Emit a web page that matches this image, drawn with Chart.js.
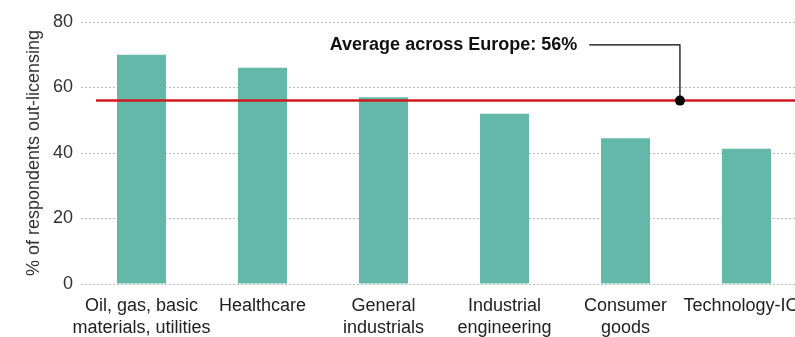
<!DOCTYPE html>
<html lang="en">
<head>
    <meta charset="UTF-8">
    <title>Out-licensing by sector</title>
    <script src="https://cdn.jsdelivr.net/npm/chart.js@4.4.3/dist/chart.umd.min.js"></script>
    <style>
        html, body {
            margin: 0;
            padding: 0;
            background: #fff;
            overflow: hidden;
        }
        .wrap {
            width: 795px;
            height: 337px;
            overflow: hidden;
        }
        canvas {
            display: block;
        }
    </style>
</head>
<body>
    <div class="wrap">
        <canvas id="chart" width="821" height="337"></canvas>
    </div>

    <script>
        // chart data
        const sectors = [
            ['Oil, gas, basic', 'materials, utilities'],
            'Healthcare',
            ['General', 'industrials'],
            ['Industrial', 'engineering'],
            ['Consumer', 'goods'],
            'Technology-ICT'
        ];
        const outLicensing = [70, 66, 57, 52, 44.5, 41.3];
        const europeAverage = 56;
        const averageLabel = 'Average across Europe: 56%';
        const yTicks = [0, 20, 40, 60, 80];

        const FONT = "'Liberation Sans', Arial, sans-serif";
        const BAR = '#64b8aa';
        const RED = '#d0191f';

        // red average line + callout
        const averagePlugin = {
            id: 'averageLine',
            afterDatasetsDraw(chart) {
                const { ctx, chartArea, scales } = chart;
                const y = scales.y.getPixelForValue(europeAverage);
                const dotX = scales.x.getPixelForValue(4.45);
                const elbowY = scales.y.getPixelForValue(73);
                const elbowX = scales.x.getPixelForValue(3.7);

                ctx.save();
                ctx.strokeStyle = RED;
                ctx.lineWidth = 2.5;
                ctx.beginPath();
                ctx.moveTo(chartArea.left + 15, y);
                ctx.lineTo(chartArea.right, y);
                ctx.stroke();

                ctx.strokeStyle = '#000';
                ctx.lineWidth = 1.2;
                ctx.beginPath();
                ctx.moveTo(elbowX, elbowY);
                ctx.lineTo(dotX, elbowY);
                ctx.lineTo(dotX, y);
                ctx.stroke();

                ctx.fillStyle = '#000';
                ctx.beginPath();
                ctx.arc(dotX, y, 5, 0, Math.PI * 2);
                ctx.fill();

                ctx.font = 'bold 18px ' + FONT;
                ctx.textAlign = 'right';
                ctx.textBaseline = 'middle';
                ctx.fillStyle = '#111';
                ctx.fillText(averageLabel, elbowX - 12, elbowY);
                ctx.restore();
            }
        };

        const ctx = document.getElementById('chart').getContext('2d');
        new Chart(ctx, {
            type: 'bar',
            data: {
                labels: sectors,
                datasets: [{
                    data: outLicensing,
                    backgroundColor: BAR,
                    borderWidth: 0,
                    barPercentage: 0.405,
                    categoryPercentage: 1
                }]
            },
            options: {
                responsive: false,
                animation: false,
                layout: { padding: { left: 23, top: 22, right: 14, bottom: 0 } },
                plugins: {
                    legend: { display: false },
                    tooltip: { enabled: false }
                },
                scales: {
                    x: {
                        grid: { display: false },
                        border: { display: false },
                        ticks: {
                            color: '#222',
                            font: { family: FONT, size: 18, lineHeight: 1.22 },
                            maxRotation: 0,
                            autoSkip: false,
                            padding: 3
                        },
                        afterFit(scale) { scale.height = 53; }
                    },
                    y: {
                        min: 0,
                        max: 80,
                        afterBuildTicks(scale) {
                            scale.ticks = yTicks.map(v => ({ value: v }));
                        },
                        grid: {
                            color: '#bbbbbb',
                            lineWidth: 1,
                            drawTicks: false
                        },
                        border: { display: false, dash: [2, 2] },
                        ticks: {
                            color: '#333',
                            font: { family: FONT, size: 18 },
                            padding: 8
                        },
                        title: {
                            display: true,
                            text: '% of respondents out-licensing',
                            color: '#333',
                            font: { family: FONT, size: 18 },
                            padding: { top: 0, bottom: 0 }
                        },
                        afterFit(scale) { scale.width = 58; }
                    }
                }
            },
            plugins: [averagePlugin]
        });
    </script>
</body>
</html>
